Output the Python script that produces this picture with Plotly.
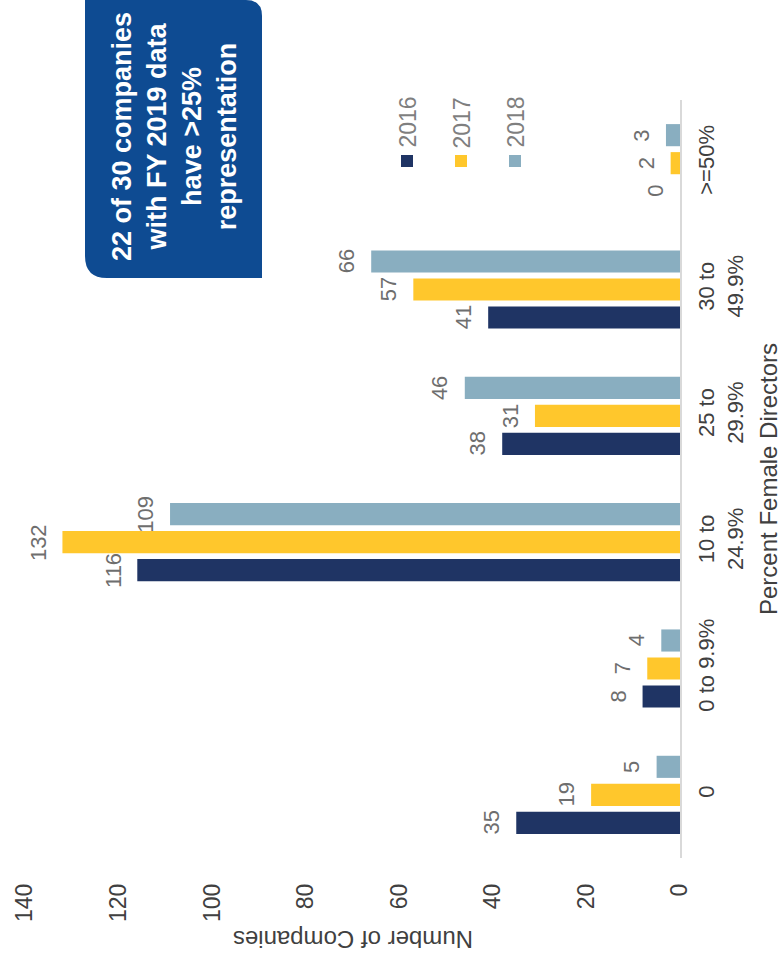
import plotly.graph_objects as go

# Board composition: number of companies by share of female directors
categories = ["0", "0 to 9.9%", "10 to 24.9%", "25 to 29.9%", "30 to 49.9%", ">=50%"]
category_labels = ["0<br>&nbsp;", "0 to 9.9%<br>&nbsp;", "10 to<br>24.9%",
                   "25 to<br>29.9%", "30 to<br>49.9%", "&gt;=50%<br>&nbsp;"]
years = ["2016", "2017", "2018"]
counts_2016 = [35, 8, 116, 38, 41, 0]
counts_2017 = [19, 7, 132, 31, 57, 2]
counts_2018 = [5, 4, 109, 46, 66, 3]
value_ticks = [0, 20, 40, 60, 80, 100, 120, 140]

series = [counts_2016, counts_2017, counts_2018]
colors = ["#1F3464", "#FFC72C", "#89AEC0"]

FONT = "Liberation Sans, Arial, sans-serif"
W, H = 783, 966
L, R, T, B = 25, 103, 100, 108
BARGAP, GROUPGAP = 0.335, 0.21


def px(x):
    return (x - L) / (W - L - R)


def py(y):
    return (H - B - y) / (H - T - B)


fig = go.Figure()
for name, vals, col in zip(years, series, colors):
    fig.add_trace(go.Bar(
        name=name, y=categories, x=vals, orientation="h",
        marker=dict(color=col, line=dict(width=0)),
        showlegend=False, hoverinfo="x+name",
    ))

annotations = []

# value labels: placed at each bar's end, shifted onto its slot in the group
band = (H - T - B) / len(categories)
slot = band * (1 - BARGAP) / len(series)
for i, vals in enumerate(series):
    shift = (i - (len(series) - 1) / 2) * slot
    for cat, v in zip(categories, vals):
        annotations.append(dict(
            x=v, y=cat, xref="x", yref="y", showarrow=False,
            text=str(v), textangle=-90, xanchor="right", yanchor="middle",
            xshift=-10, yshift=shift,
            font=dict(family=FONT, size=22, color="#6E6E6E")))

# callout box with rounded top-right and bottom-left corners
x0, x1, y0, y1, r1, r2 = 85, 262, 0, 278, 16, 22
path = (f"M {px(x0)},{py(y0 - 4)} L {px(x0)},{py(y1 - r2)} "
        f"Q {px(x0)},{py(y1)} {px(x0 + r2)},{py(y1)} "
        f"L {px(x1)},{py(y1)} L {px(x1)},{py(y0 + r1)} "
        f"Q {px(x1)},{py(y0)} {px(x1 - r1)},{py(y0)} "
        f"L {px(x1 - r1)},{py(y0 - 4)} Z")
shapes = [dict(type="path", path=path, xref="paper", yref="paper",
               fillcolor="#0E4B92", line=dict(width=0), layer="above")]

annotations += [
    dict(x=px(175), y=py(137), xref="paper", yref="paper", showarrow=False,
         textangle=-90, align="center", xanchor="center", yanchor="middle",
         text="<b>22 of 30 companies<br>with FY 2019 data<br>have &gt;25%<br>representation</b>",
         font=dict(family=FONT, size=27, color="white")),
    dict(x=px(353), y=py(940), xref="paper", yref="paper", showarrow=False,
         textangle=180, text="Number of Companies",
         xanchor="center", yanchor="middle",
         font=dict(family=FONT, size=24, color="#404040")),
    dict(x=px(768), y=py(479), xref="paper", yref="paper", showarrow=False,
         textangle=-90, text="Percent Female Directors",
         xanchor="center", yanchor="middle",
         font=dict(family=FONT, size=24, color="#404040")),
]

# legend: colour swatches with rotated year labels
for i, (name, col) in enumerate(zip(years, colors)):
    cx = 407 + 54 * i
    shapes.append(dict(type="rect", xref="paper", yref="paper",
                       x0=px(cx - 6), x1=px(cx + 6), y0=py(167), y1=py(155),
                       fillcolor=col, line=dict(width=0)))
    annotations.append(dict(x=px(cx), y=py(150), xref="paper", yref="paper",
                            showarrow=False, textangle=-90,
                            xanchor="center", yanchor="bottom",
                            text=name,
                            font=dict(family=FONT, size=23, color="#7F7F7F")))

fig.update_layout(
    width=W, height=H,
    margin=dict(l=L, r=R, t=T, b=B, pad=0),
    paper_bgcolor="white", plot_bgcolor="white",
    barmode="group", bargap=BARGAP, bargroupgap=GROUPGAP,
    font=dict(family=FONT, size=22, color="#404040"),
    shapes=shapes, annotations=annotations,
    xaxis=dict(range=[140, 0], tickvals=value_ticks, tickangle=-90,
               showgrid=False, zeroline=False, showline=False, ticks="",
               ticklabelstandoff=20,
               tickfont=dict(family=FONT, size=23, color="#404040")),
    yaxis=dict(side="right", type="category", range=[-0.5, 5.5],
               categoryorder="array", categoryarray=categories,
               tickvals=categories, ticktext=category_labels,
               showgrid=False, zeroline=False, showline=True,
               linecolor="#D9D9D9", linewidth=2, ticks="",
               tickangle=-90, ticklabelstandoff=6,
               tickfont=dict(family=FONT, size=22, color="#404040")),
)

fig.write_html("out.html")
